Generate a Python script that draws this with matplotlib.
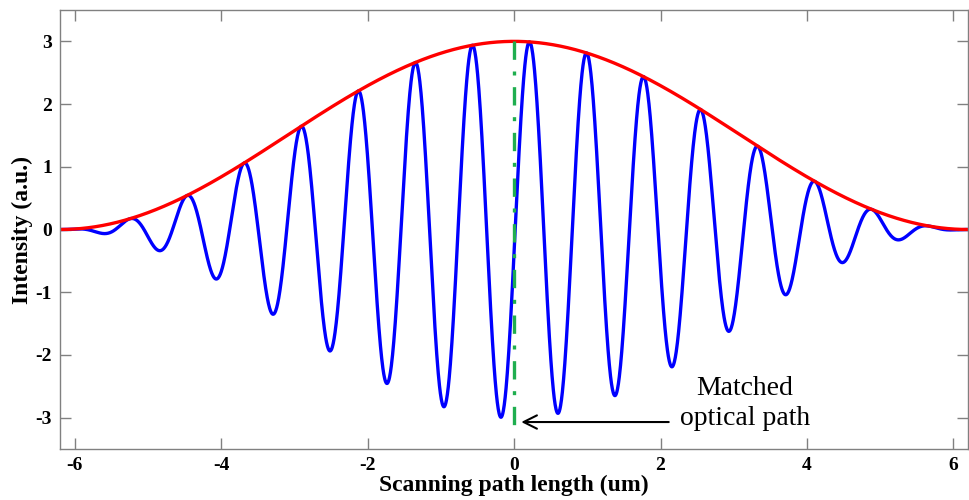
import numpy as np
import matplotlib
matplotlib.use("Agg")
import matplotlib.pyplot as plt

# Values
PEAK_INTENSITY = 3.0       # envelope maximum (a.u.)
ENVELOPE_HALF_WIDTH = 6.2  # envelope reaches zero at +/- this path length (um)
FRINGE_PERIOD = 0.78       # distance between neighbouring fringes (um)
FRINGE_PEAK_POS = 0.21     # position of the central bright fringe (um)
MATCHED_PATH = 0.0         # zero optical path difference (um)

x_ticks = [-6, -4, -2, 0, 2, 4, 6]
y_ticks = [-3, -2, -1, 0, 1, 2, 3]
x_limits = [-6.2, 6.2]
y_limits = [-3.5, 3.5]

plt.rcParams["font.family"] = ["Liberation Serif", "DejaVu Serif"]

# scan positions and the raised-cosine envelope / fringe signal
scan = np.linspace(x_limits[0], x_limits[1], 3000)
envelope = PEAK_INTENSITY * np.cos(np.pi * scan / (2 * ENVELOPE_HALF_WIDTH)) ** 2
fringes = envelope * np.cos(2 * np.pi * (scan - FRINGE_PEAK_POS) / FRINGE_PERIOD)

fig = plt.figure(figsize=(9.7, 5.0), dpi=100)
ax = fig.add_axes([0.062, 0.102, 0.936, 0.878])

ax.plot(scan, fringes, color="#0000ff", lw=2.4)
ax.plot(scan, envelope, color="#ff0000", lw=2.4)
ax.plot([MATCHED_PATH, MATCHED_PATH], [PEAK_INTENSITY, -3.25],
        color="#1fae4f", lw=2.4, linestyle=(0, (5.5, 3.5, 1.2, 3.5)))

# arrow and label for the matched optical path
ax.annotate("", xy=(MATCHED_PATH + 0.06, -3.07), xytext=(2.15, -3.07),
            arrowprops=dict(arrowstyle="->", color="black", lw=1.5,
                            mutation_scale=24))
ax.text(3.15, -2.78, "Matched\noptical path", ha="center", va="center",
        fontsize=20, linespacing=1.25)

ax.set_xlim(x_limits)
ax.set_ylim(y_limits)
ax.set_xticks(x_ticks)
ax.set_yticks(y_ticks)
ax.set_xticklabels([str(t) for t in x_ticks], fontweight="bold", fontsize=14)
ax.set_yticklabels([str(t) for t in y_ticks], fontweight="bold", fontsize=14)
ax.tick_params(direction="in", length=8, width=1, color="#808080",
               top=True, right=True, pad=6)
for spine in ax.spines.values():
    spine.set_color("#808080")
    spine.set_linewidth(1)

ax.set_xlabel("Scanning path length (um)", fontweight="bold", fontsize=17,
              labelpad=0)
ax.set_ylabel("Intensity (a.u.)", fontweight="bold", fontsize=17, labelpad=1.5)

fig.savefig("out.png", dpi=100)
plt.close(fig)
